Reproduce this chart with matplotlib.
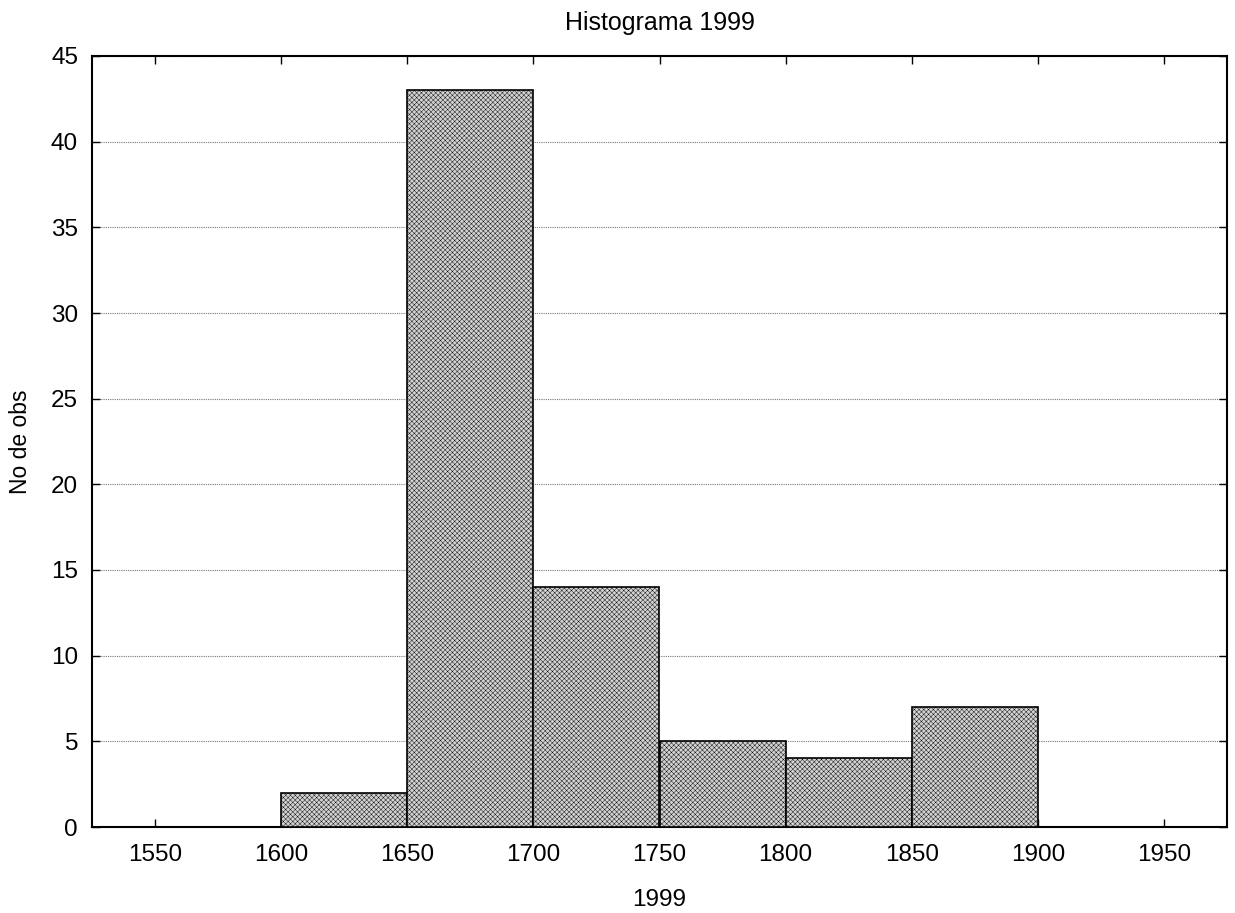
import matplotlib.pyplot as plt

# histogram bins (left edges) and counts
bin_edges = [1550, 1600, 1650, 1700, 1750, 1800, 1850, 1900]
counts = [0, 2, 43, 14, 5, 4, 7, 0]
bin_width = 50
x_ticks = [1550, 1600, 1650, 1700, 1750, 1800, 1850, 1900, 1950]
y_ticks = [0, 5, 10, 15, 20, 25, 30, 35, 40, 45]

plt.rcParams['font.family'] = ['Liberation Sans', 'DejaVu Sans']
plt.rcParams['hatch.color'] = '#b2b2b2'
plt.rcParams['hatch.linewidth'] = 0.3

fig = plt.figure(figsize=(12.35, 9.13), dpi=100)
ax = fig.add_axes([92 / 1235, 86 / 913, 1135 / 1235, 771 / 913])

# histogram bars
ax.bar(bin_edges, counts, width=bin_width, align='edge',
       color='#d2d2d2', edgecolor='black', linewidth=1.2,
       hatch='xxxxxxx', zorder=3)

ax.set_xlim(1525, 1975)
ax.set_ylim(0, 45)
ax.set_xticks(x_ticks)
ax.set_yticks(y_ticks)
ax.grid(axis='y', color='#777777', linestyle=(0, (1, 1)), linewidth=0.8, zorder=0)
ax.tick_params(direction='in', top=True, right=True, length=6, width=1,
               labelsize=17.5)
ax.tick_params(axis='x', pad=12)
ax.tick_params(axis='y', pad=10)
for s in ax.spines.values():
    s.set_linewidth(1.5)

ax.set_title("Histograma 1999", fontsize=18, pad=19)
ax.set_xlabel("1999", fontsize=17.5, labelpad=17)
ax.set_ylabel("No de obs", fontsize=16.5, labelpad=14)

plt.savefig("out.png", dpi=100)
